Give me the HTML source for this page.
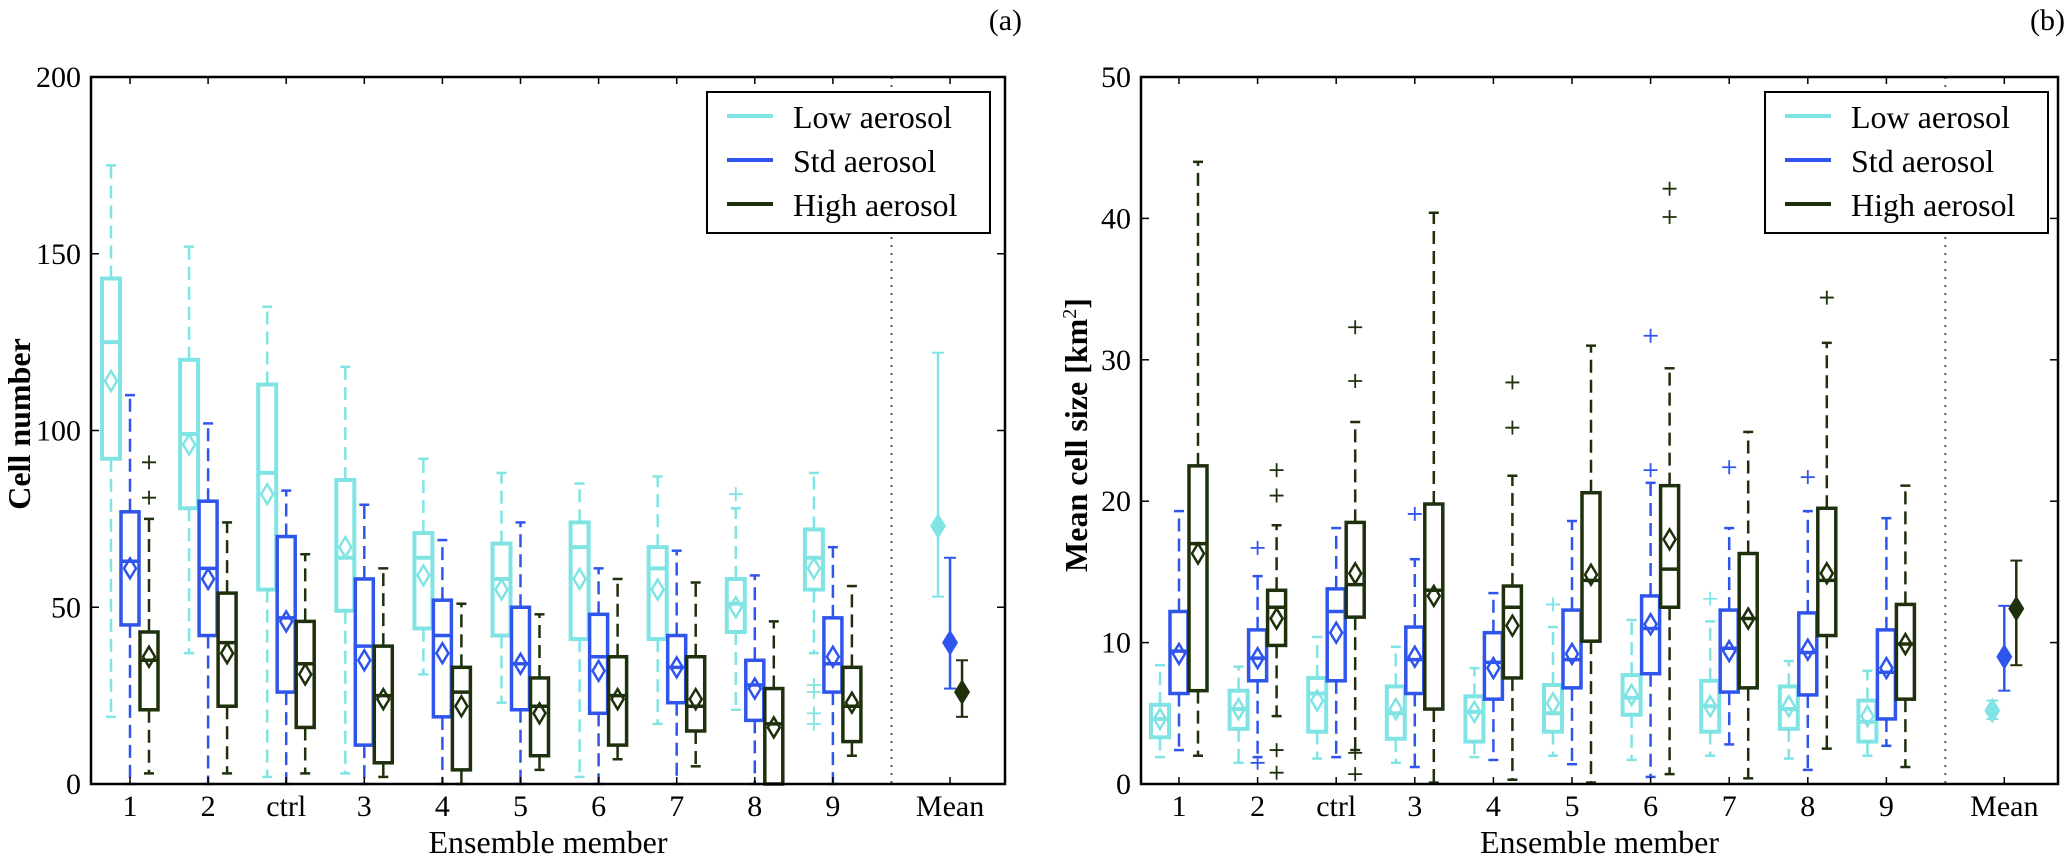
<!DOCTYPE html>
<html><head><meta charset="utf-8"><style>
html,body{margin:0;padding:0;background:#fff;}
svg{display:block;font-family:"Liberation Serif",serif;}
</style></head><body>
<svg id="fig" width="2067" height="859" viewBox="0 0 2067 859" xmlns="http://www.w3.org/2000/svg"></svg>
<script>
// categories
const categories = ["1","2","ctrl","3","4","5","6","7","8","9"];
// each stat row: [whiskerLow, q1, median, q3, whiskerHigh, mean]
const aLow = [[19,92,125,143,175,114],[37,78,99,120,152,96],[2,55,88,113,135,82],[3,49,64,86,118,67],[31,44,64,71,92,59],[23,42,58,68,88,55],[2,41,67,74,85,58],[17,41,61,67,87,55],[21,43,51,58,78,50],[37,55,64,72,88,61]];
const aStd = [[0,45,63,77,110,61],[0,42,61,80,102,58],[0,26,47,70,83,46],[0,11,39,58,79,35],[0,19,42,52,69,37],[0,21,34,50,74,34],[0,20,36,48,61,32],[0,23,33,42,66,33],[0,18,28,35,59,27],[0,26,34,47,67,36]];
const aHigh = [[3,21,35,43,75,36],[3,22,40,54,74,37],[3,16,34,46,65,31],[2,6,25,39,61,24],[0,4,26,33,51,22],[4,8,22,30,48,20],[7,11,25,36,58,24],[5,15,22,36,57,24],[0,0,17,27,46,16],[8,12,22,33,56,23]];
const aLowOut = [[],[],[],[],[],[],[],[],[82],[28,26,20,17]];
const aStdOut = [[],[],[],[],[],[],[],[],[],[]];
const aHighOut = [[91,81],[],[],[],[],[],[],[],[],[]];
// overall means [mean, errLow, errHigh]
const aMeans = [[73,53,122],[40,27,64],[26,19,35]];

const bLow = [[1.9,3.3,4.6,5.6,8.4,4.6],[1.5,3.9,5.3,6.6,8.3,5.3],[1.8,3.7,6.4,7.5,10.4,5.9],[1.5,3.2,5.0,6.9,9.7,5.3],[1.9,3.0,5.1,6.2,8.2,5.1],[2.0,3.7,5.0,7.0,11.1,5.7],[1.7,4.9,6.1,7.7,11.6,6.3],[2.0,3.7,5.5,7.3,11.5,5.5],[1.8,3.9,5.3,6.9,8.7,5.5],[2.0,3.0,4.4,5.9,8.0,4.8]];
const bStd = [[2.4,6.4,9.4,12.2,19.3,9.2],[1.9,7.3,8.9,10.9,14.7,8.9],[1.9,7.3,12.2,13.8,18.1,10.7],[1.2,6.4,8.8,11.1,15.9,9.0],[1.7,6.0,8.6,10.7,13.5,8.2],[1.4,6.8,8.8,12.3,18.6,9.2],[0.5,7.8,11.0,13.3,21.3,11.3],[2.8,6.5,9.6,12.3,18.1,9.4],[1.0,6.3,9.3,12.1,19.3,9.5],[2.7,4.6,7.9,10.9,18.8,8.2]];
const bHigh = [[2.0,6.6,17.0,22.5,44.0,16.3],[4.8,9.8,12.5,13.7,18.3,11.7],[2.4,11.8,14.1,18.5,25.6,14.9],[0.1,5.3,13.7,19.8,40.4,13.3],[0.3,7.5,12.5,14.0,21.8,11.2],[0.1,10.1,14.4,20.6,31.0,14.8],[0.7,12.5,15.2,21.1,29.4,17.3],[0.4,6.8,11.7,16.3,24.9,11.7],[2.5,10.5,14.4,19.5,31.2,14.9],[1.2,6.0,9.9,12.7,21.1,9.9]];
const bLowOut = [[],[],[],[],[],[12.7],[],[13.1],[],[]];
const bStdOut = [[],[16.7,1.5],[],[19.1],[],[],[31.7,22.2],[22.4],[21.7],[]];
const bHighOut = [[],[22.2,20.4,2.4,0.8],[32.3,28.5,2.2,0.7],[],[28.4,25.2],[],[42.1,40.1],[],[34.4],[]];
const bMeans = [[5.2,4.6,5.9],[9.0,6.6,12.6],[12.4,8.4,15.8]];

const yTicksA = [0,50,100,150,200];
const yTicksB = [0,10,20,30,40,50];
const seriesNames = ["Low aerosol","Std aerosol","High aerosol"];
const colors = ["#80e4e4","#2f55ec","#1e300c"];

const NS="http://www.w3.org/2000/svg";
const svg=document.getElementById('fig');
function mk(tag, attrs, parent){const e=document.createElementNS(NS,tag);for(const k in attrs)e.setAttribute(k,attrs[k]);(parent||svg).appendChild(e);return e;}

function panel(cfg){
  const g=mk('g',{});
  
  
  const L=cfg.left,R=cfg.right,T=77,B=784;
  const y=v=>B-(v-cfg.ymin)/(cfg.ymax-cfg.ymin)*(B-T);
  const x=i=>cfg.x0+cfg.dx*i;
  const offs=[-19,0,19];
  const sets=[cfg.low,cfg.std,cfg.high];
  const outs=[cfg.lowOut,cfg.stdOut,cfg.highOut];
  for(let s=0;s<3;s++){
    const col=colors[s];
    const sw = s===0?4:3.5;
    for(let i=0;i<categories.length;i++){
      const d=sets[s][i];const cx=x(i)+offs[s];
      const grp=mk('g',{},g);
      
      
      mk('line',{x1:cx,x2:cx,y1:y(d[3]),y2:y(d[4]),stroke:col,'stroke-width':2.5,'stroke-dasharray':'13,7'},grp);
      mk('line',{x1:cx,x2:cx,y1:y(d[1]),y2:y(d[0]),stroke:col,'stroke-width':2.5,'stroke-dasharray':'13,7'},grp);
      mk('line',{x1:cx-5,x2:cx+5,y1:y(d[4]),y2:y(d[4]),stroke:col,'stroke-width':2.5},grp);
      mk('line',{x1:cx-5,x2:cx+5,y1:y(d[0]),y2:y(d[0]),stroke:col,'stroke-width':2.5},grp);
      mk('rect',{x:cx-9,y:y(d[3]),width:18,height:Math.max(0,y(d[1])-y(d[3])),fill:'#fff',stroke:col,'stroke-width':sw},grp);
      mk('line',{x1:cx-9,x2:cx+9,y1:y(d[2]),y2:y(d[2]),stroke:col,'stroke-width':sw},grp);
      const my=y(d[5]);
      mk('path',{d:`M${cx} ${my-10} L${cx+6} ${my} L${cx} ${my+10} L${cx-6} ${my} Z`,fill:'none',stroke:col,'stroke-width':2.5},grp);
      for(const o of outs[s][i]){
        const oy=y(o);
        mk('path',{d:`M${cx-7} ${oy} H${cx+7} M${cx} ${oy-7} V${oy+7}`,stroke:col,'stroke-width':1.8},grp);
      }
    }
  }
  mk('line',{x1:x(9.75),x2:x(9.75),y1:T,y2:B,stroke:'#555','stroke-width':2,'stroke-dasharray':'2,6'},g);
  const moffs=[-12,0,12];
  for(let s=0;s<3;s++){
    const m=cfg.means[s];const cx=x(10.5)+moffs[s];const col=colors[s];
    const grp=mk('g',{},g);
    
    
    mk('line',{x1:cx,x2:cx,y1:y(m[1]),y2:y(m[2]),stroke:col,'stroke-width':2.5},grp);
    mk('line',{x1:cx-6,x2:cx+6,y1:y(m[1]),y2:y(m[1]),stroke:col,'stroke-width':2},grp);
    mk('line',{x1:cx-6,x2:cx+6,y1:y(m[2]),y2:y(m[2]),stroke:col,'stroke-width':2},grp);
    const my=y(m[0]);
    mk('path',{d:`M${cx} ${my-13} L${cx+8} ${my} L${cx} ${my+13} L${cx-8} ${my} Z`,fill:col},grp);
  }
  const fr=mk('rect',{x:L,y:T,width:R-L,height:B-T,fill:'none',stroke:'#000','stroke-width':2.5},g);
  
  
  const xl=categories.concat(["Mean"]);
  for(let i=0;i<xl.length;i++){
    const xi = i<10?x(i):x(10.5);
    mk('line',{x1:xi,x2:xi,y1:B,y2:B-7,stroke:'#000','stroke-width':1.5},g);
    mk('line',{x1:xi,x2:xi,y1:T,y2:T+7,stroke:'#000','stroke-width':1.5},g);
    const t=mk('text',{x:xi,y:816,'font-size':30,'text-anchor':'middle'},g);
    
    
    t.textContent=xl[i];
  }
  for(const v of cfg.yticks){
    const yy=y(v);
    mk('line',{x1:L,x2:L+8,y1:yy,y2:yy,stroke:'#000','stroke-width':1.5},g);
    mk('line',{x1:R,x2:R-8,y1:yy,y2:yy,stroke:'#000','stroke-width':1.5},g);
    const t=mk('text',{x:L-10,y:yy+10,'font-size':30,'text-anchor':'end'},g);
    
    
    t.textContent=v;
  }
  const xt=mk('text',{x:(L+R)/2,y:853,'font-size':32,'text-anchor':'middle'},g);
  
  
  xt.textContent="Ensemble member";
  const yt=mk('text',{x:0,y:0,'font-size':32,'font-weight':'bold','text-anchor':'middle',transform:`translate(${cfg.ylabX},${cfg.ylabY}) rotate(-90)`},g);
  
  
  yt.innerHTML=cfg.ylabel;
  const pl=mk('text',{x:cfg.tagX,y:30,'font-size':30,'text-anchor':'end'},g);
  
  
  pl.textContent=cfg.tag;
  const lx=cfg.legX;
  const lg=mk('g',{},g);
  
  
  mk('rect',{x:lx,y:92,width:283,height:141,fill:'#fff',stroke:'#000','stroke-width':2},lg);
  const ly=[116,160,204];
  for(let s=0;s<3;s++){
    const le=mk('g',{},lg);
    
    
    mk('line',{x1:lx+20,x2:lx+66,y1:ly[s],y2:ly[s],stroke:colors[s],'stroke-width':4},le);
    const t=mk('text',{x:lx+86,y:ly[s]+12,'font-size':32},le);
    t.textContent=seriesNames[s];
  }
}
panel({name:'panel-a-cell-number',left:91,right:1005,x0:130,dx:78.1,ymin:0,ymax:200,yticks:yTicksA,
  low:aLow,std:aStd,high:aHigh,lowOut:aLowOut,stdOut:aStdOut,highOut:aHighOut,means:aMeans,
  ylabel:'Cell number',ylabX:30,ylabY:424,tag:'(a)',tagX:1022,legX:707});
panel({name:'panel-b-mean-cell-size',left:1141,right:2058,x0:1179,dx:78.6,ymin:0,ymax:50,yticks:yTicksB,
  low:bLow,std:bStd,high:bHigh,lowOut:bLowOut,stdOut:bStdOut,highOut:bHighOut,means:bMeans,
  ylabel:'Mean cell size [km<tspan baseline-shift="super" font-size="20" font-weight="normal">2</tspan>]',ylabX:1087,ylabY:435,tag:'(b)',tagX:2065,legX:1765});
</script>
</body></html>
